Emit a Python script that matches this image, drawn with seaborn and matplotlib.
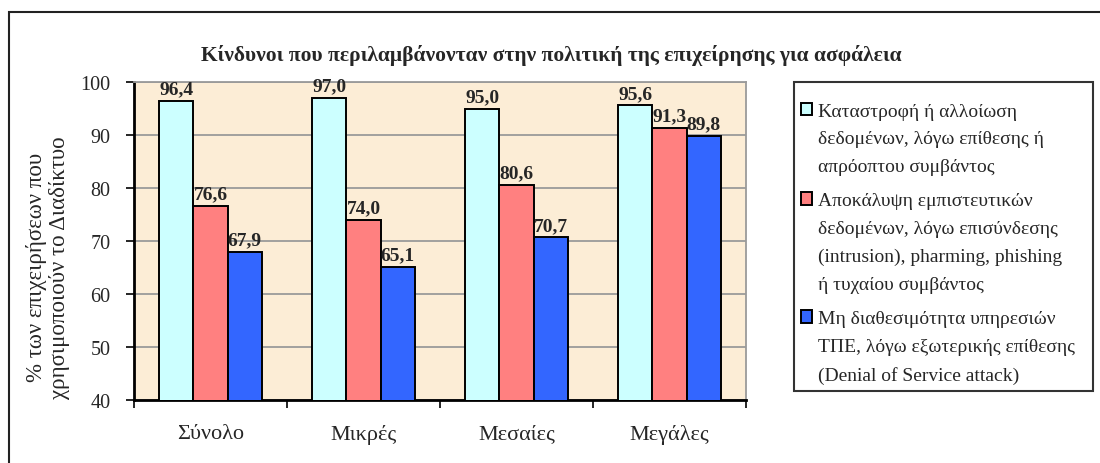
import matplotlib
matplotlib.use("Agg")
import matplotlib.pyplot as plt
import matplotlib.patches as mpatches
from matplotlib.ticker import FixedLocator, NullFormatter
import seaborn as sns
import pandas as pd

categories = ["Σύνολο", "Μικρές", "Μεσαίες", "Μεγάλες"]
series_names = [
    "Καταστροφή ή αλλοίωση\nδεδομένων, λόγω επίθεσης ή\nαπρόοπτου συμβάντος",
    "Αποκάλυψη εμπιστευτικών\nδεδομένων, λόγω επισύνδεσης\n(intrusion), pharming, phishing\nή τυχαίου συμβάντος",
    "Μη διαθεσιμότητα υπηρεσιών\nΤΠΕ, λόγω εξωτερικής επίθεσης\n(Denial of Service attack)",
]
destruction = [96.4, 97.0, 95.0, 95.6]
disclosure = [76.6, 74.0, 80.6, 91.3]
unavailability = [67.9, 65.1, 70.7, 89.8]
colors = ["#CCFFFF", "#FF8080", "#3366FF"]
title = "Κίνδυνοι που περιλαμβάνονταν στην πολιτική της επιχείρησης για ασφάλεια"
ylabel = "% των επιχειρήσεων που\nχρησιμοποιούν το Διαδίκτυο"
yticks = [40, 50, 60, 70, 80, 90, 100]

rows = []
for name, vals in zip(series_names, [destruction, disclosure, unavailability]):
    for c, v in zip(categories, vals):
        rows.append({"cat": c, "series": name, "value": v})
df = pd.DataFrame(rows)

sns.set_theme(style="white")
plt.rcParams["font.family"] = ["Liberation Serif", "DejaVu Serif"]

fig = plt.figure(figsize=(11, 4.64), dpi=100)
ax = fig.add_axes([134 / 1100, 63 / 464, 612 / 1100, 318 / 464])

# outer frame
fig.patches.append(mpatches.Rectangle((9 / 1100, -0.05), 1.2, (464 - 13) / 464 + 0.05,
                                      transform=fig.transFigure, fill=False,
                                      edgecolor="#222222", linewidth=1.5, zorder=0))

sns.barplot(data=df, x="cat", y="value", hue="series", palette=colors,
            width=0.667, gap=0, edgecolor="black", linewidth=1.4,
            saturation=1, ax=ax, zorder=3)

ax.set_facecolor("#FCEDD6")
ax.set_ylim(40, 100)
ax.set_xlim(-0.5, 3.5)
ax.set_yticks(yticks)
ax.yaxis.grid(True, color="#9a9a9a", linewidth=1.3, zorder=0)
ax.set_axisbelow(True)

for cont in ax.containers:
    ax.bar_label(cont, labels=[f"{v:.1f}".replace(".", ",") for v in cont.datavalues],
                 fontsize=14, fontweight="bold", padding=2.5, zorder=5)

ax.set_xlabel("")
ax.set_ylabel(ylabel, fontsize=16.5, linespacing=1.1)
ax.yaxis.set_label_coords(-0.105, 0.42)
ax.tick_params(axis="y", which="major", direction="out", length=6, width=1.2,
               labelsize=14.5, pad=11, left=True, color="black")
ax.tick_params(axis="x", which="major", length=0, labelsize=16, pad=17)
ax.xaxis.set_minor_locator(FixedLocator([-0.5, 0.5, 1.5, 2.5, 3.5]))
ax.xaxis.set_minor_formatter(NullFormatter())
ax.tick_params(axis="x", which="minor", direction="out", length=6, width=1.2,
               bottom=True, color="black")

for side in ["left", "bottom"]:
    ax.spines[side].set_color("black")
    ax.spines[side].set_linewidth(2)
for side in ["top", "right"]:
    ax.spines[side].set_color("#9a9a9a")
    ax.spines[side].set_linewidth(1.3)

fig.text(551 / 1100, 1 - 55 / 464, title, ha="center", va="center",
         fontsize=15.5, fontweight="bold")

handles, labels = ax.get_legend_handles_labels()
if ax.legend_:
    ax.legend_.remove()
leg = fig.legend(handles, labels, loc="upper left",
                 bbox_to_anchor=(794 / 1100, 1 - 88 / 464, 299 / 1100, 0.01),
                 bbox_transform=fig.transFigure, mode="expand",
                 fontsize=14, frameon=True, fancybox=False,
                 edgecolor="black", handlelength=0.6, handleheight=0.6,
                 handletextpad=0.3, labelspacing=0.9, borderpad=0.35,
                 borderaxespad=0, title=" ", title_fontsize=1)
leg.get_frame().set_linewidth(1.5)
for t in leg.get_texts():
    t.set_linespacing(1.82)
try:
    leg._legend_box.sep = 9
    # align handles with first line of each label
    for col in leg._legend_handle_box.get_children():
        for entry in col.get_children():
            entry.align = "top"
except Exception:
    pass

fig.savefig("out.png", dpi=100)
